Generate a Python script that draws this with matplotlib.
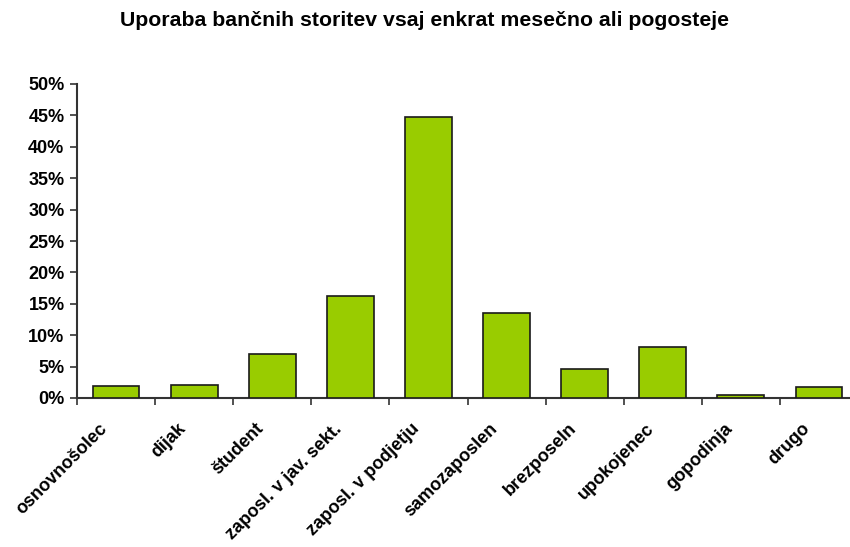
import numpy as np
import matplotlib
matplotlib.use('Agg')
import matplotlib.pyplot as plt
from matplotlib.ticker import FuncFormatter

plt.rcParams['font.family'] = ['Liberation Sans', 'DejaVu Sans']
plt.rcParams['font.weight'] = 'bold'

categories = ['osnovnošolec', 'dijak', 'študent', 'zaposl. v jav. sekt.',
              'zaposl. v podjetju', 'samozaposlen', 'brezposeln', 'upokojenec',
              'gopodinja', 'drugo']
values = [1.9, 2.1, 7.0, 16.2, 44.8, 13.6, 4.6, 8.1, 0.4, 1.8]

fig = plt.figure(figsize=(8.5, 5.47), dpi=100)
ax = fig.add_axes([77/850, 1-398/547, 781/850, 314/547])

x = np.arange(len(categories))
ax.bar(x, values, width=0.6, color='#99CC00', edgecolor='#1a1a1a', linewidth=1.2, zorder=3)

ax.set_xlim(-0.5, len(categories)-0.5)
ax.set_ylim(0, 50)
ax.set_yticks(np.arange(0, 51, 5))
ax.yaxis.set_major_formatter(FuncFormatter(lambda v, p: '%d%%' % v))

# category ticks sit between the bars
ax.set_xticks(np.arange(-0.5, len(categories), 1), minor=False)
ax.set_xticklabels([])
ax.set_xticks(x - 0.22, minor=True)
ax.set_xticklabels(categories, minor=True, rotation=45, ha='right',
                   rotation_mode='anchor', fontsize=13, fontweight='bold')
ax.tick_params(axis='x', which='minor', length=0, pad=16)
ax.tick_params(axis='x', which='major', length=5, width=1.2, color='#333333', direction='out')
ax.tick_params(axis='y', length=5, width=1.2, color='#333333', labelsize=13, pad=4)
for lab in ax.get_yticklabels():
    lab.set_fontweight('bold')

for s in ['top', 'right']:
    ax.spines[s].set_visible(False)
for s in ['left', 'bottom']:
    ax.spines[s].set_color('#333333')
    ax.spines[s].set_linewidth(1.5)

fig.text(0.5, 1-20/547, 'Uporaba bančnih storitev vsaj enkrat mesečno ali pogosteje',
         ha='center', va='center', fontsize=15.3, fontweight='bold')

fig.savefig('out.png', dpi=100)
